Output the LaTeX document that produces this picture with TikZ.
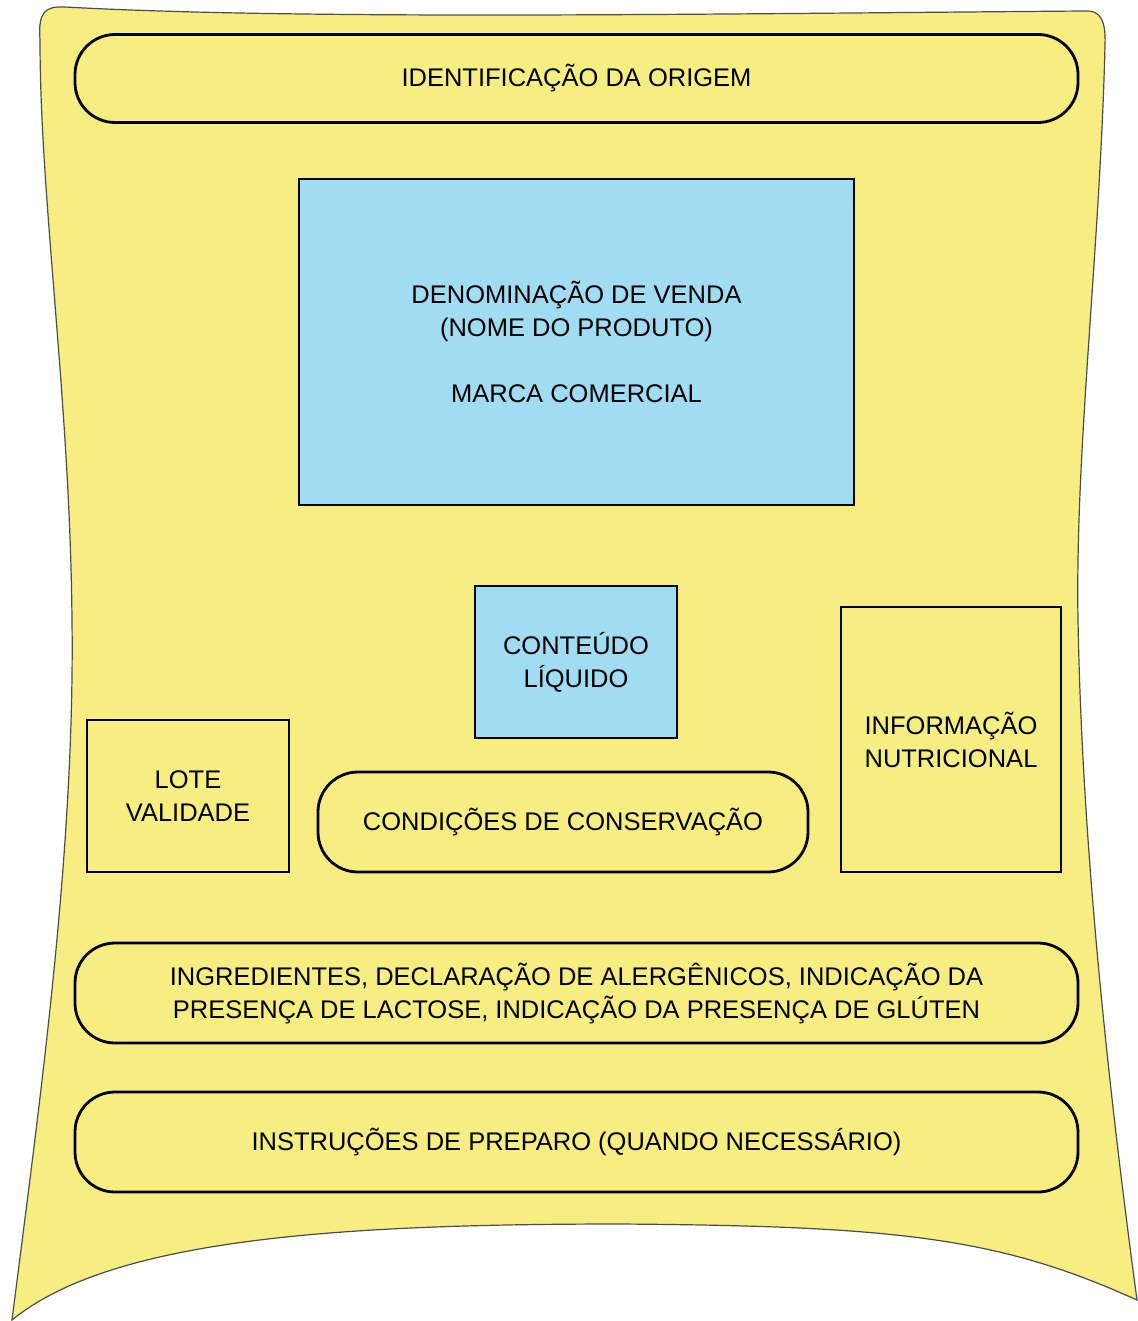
\documentclass[tikz,border=0pt]{standalone}
\usepackage{fontspec}
\setmainfont{Liberation Sans}
\usepackage{xcolor}
\definecolor{rotuloamarelo}{RGB}{247,238,130}
\definecolor{rotuloazul}{RGB}{160,220,242}

\begin{document}
\begin{tikzpicture}[x=1pt,y=-1pt,
  campo/.style={draw, line width=2.8pt, inner sep=0pt, align=center,
    font=\fontsize{25.5}{33}\selectfont},
  faixa/.style={campo, rounded corners=40pt},
  azul/.style={campo, fill=rotuloazul}]
\useasboundingbox (0,0) rectangle (1137,1321);
% contorno do rotulo
\filldraw[fill=rotuloamarelo, draw=black!70, line width=1.2pt]
  (40,40) .. controls (38,12) and (45,6) .. (65,7)
  .. controls (300,20) and (700,14) .. (1085,11)
  .. controls (1100,10) and (1106,20) .. (1105,45)
  .. controls (1100,250) and (1075,450) .. (1078,620)
  .. controls (1082,850) and (1110,1100) .. (1137,1300)
  .. controls (1000,1238) and (900,1226) .. (620,1224)
  .. controls (330,1224) and (110,1240) .. (12,1320)
  .. controls (40,1100) and (75,850) .. (72,620)
  .. controls (70,400) and (40,200) .. (40,40) -- cycle;
\node[faixa, minimum width=1003, minimum height=88] (origem) at (576.5,78.5) {IDENTIFICAÇÃO DA ORIGEM};
\node[azul, minimum width=555, minimum height=326] (venda) at (576.5,342)
  {DENOMINAÇÃO DE VENDA\\(NOME DO PRODUTO)\\[33pt]MARCA COMERCIAL};
\node[azul, minimum width=202, minimum height=152] (conteudo) at (576,662) {CONTEÚDO\\LÍQUIDO};
\node[campo, minimum width=220, minimum height=265] (nutricional) at (951,739.5) {INFORMAÇÃO\\NUTRICIONAL};
\node[campo, minimum width=202, minimum height=152] (lote) at (188,796) {LOTE\\VALIDADE};
\node[faixa, minimum width=490, minimum height=100] (conservacao) at (563,822) {CONDIÇÕES DE CONSERVAÇÃO};
\node[faixa, minimum width=1003, minimum height=100] (ingredientes) at (576.5,993)
  {INGREDIENTES, DECLARAÇÃO DE ALERGÊNICOS, INDICAÇÃO DA\\PRESENÇA DE LACTOSE, INDICAÇÃO DA PRESENÇA DE GLÚTEN};
\node[faixa, minimum width=1003, minimum height=100] (preparo) at (576.5,1142) {INSTRUÇÕES DE PREPARO (QUANDO NECESSÁRIO)};
\end{tikzpicture}
\end{document}
